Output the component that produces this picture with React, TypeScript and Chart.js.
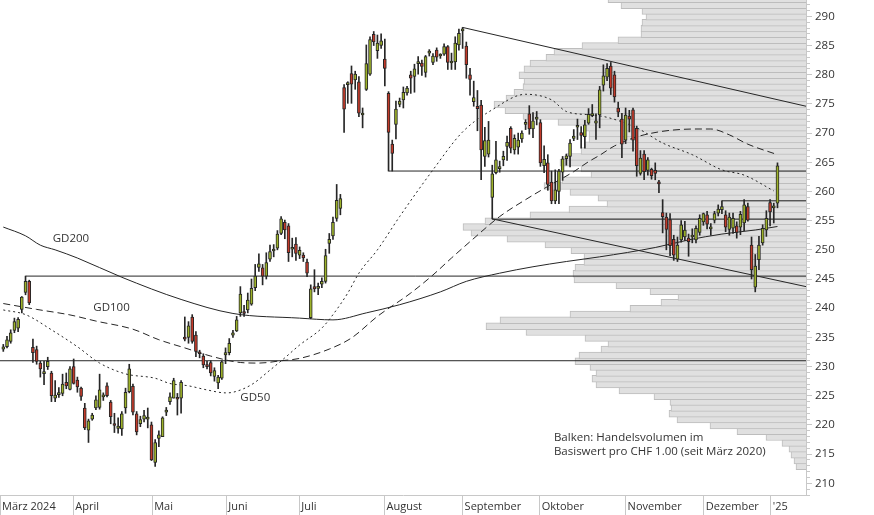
import React, { useEffect, useRef } from 'react';
import { Chart, registerables } from 'chart.js';

Chart.register(...registerables);

// ---- Daily candles (index 0 = first trading day shown, March 2024) ----
const OPEN = [
  233.0, 233.4, 234.3, 236.2, 236.6, 239.8, 242.7, 244.6, 233.3, 232.9,
  230.6, 228.8, 230.0, 228.9, 224.6, 225.2, 225.4, 227.3, 226.1, 230.0,
  227.7, 226.3, 222.9, 219.1, 221.0, 222.9, 223.0, 224.8, 226.7, 223.9,
  220.0, 219.4, 219.3, 222.9, 225.7, 226.6, 221.9, 220.2, 221.0, 221.0,
  220.0, 213.6, 217.7, 218.0, 222.2, 224.0, 224.6, 224.6, 224.6, 234.8,
  235.0, 238.5, 235.4, 232.4, 231.8, 230.2, 230.7, 228.3, 227.2, 228.0,
  232.0, 232.4, 235.4, 236.1, 239.2, 239.3, 239.7, 240.7, 243.5, 247.0,
  246.9, 245.5, 248.4, 249.8, 250.3, 252.8, 254.7, 254.1, 250.1, 251.0,
  249.1, 249.1, 247.9, 238.4, 243.7, 243.4, 244.1, 244.6, 251.1, 252.4,
  255.4, 257.1, 277.8, 278.3, 280.2, 279.1, 278.8, 273.1, 277.5, 280.1,
  286.9, 284.1, 285.0, 282.7, 276.8, 268.1, 271.5, 274.9, 275.7, 276.9,
  280.0, 279.7, 281.9, 282.0, 280.4, 283.7, 282.1, 284.2, 283.2, 283.5,
  284.8, 282.0, 282.2, 285.1, 287.5, 284.9, 280.0, 275.4, 274.6, 274.8,
  266.0, 266.4, 259.0, 263.2, 263.9, 265.4, 267.7, 270.8, 267.1, 267.6,
  269.0, 271.5, 273.3, 270.7, 272.4, 271.8, 264.4, 264.9, 261.6, 258.4,
  260.0, 263.3, 265.6, 266.0, 269.1, 271.0, 270.1, 269.4, 271.7, 273.0,
  271.7, 273.1, 278.2, 279.6, 281.5, 280.0, 274.3, 272.4, 268.8, 272.9,
  274.0, 270.8, 263.1, 266.4, 263.6, 263.8, 263.6, 261.5, 256.4, 255.6,
  255.2, 251.8, 248.4, 251.7, 252.2, 252.0, 252.2, 251.7, 253.0, 254.8,
  256.0, 253.6, 255.1, 256.3, 256.9, 256.0, 253.5, 253.7, 254.1, 253.9,
  254.6, 257.4, 250.8, 243.6, 248.3, 251.2, 253.4, 258.1, 257.2, 258.0,
];
const HIGH = [
  233.8, 235.2, 236.3, 238.3, 238.4, 242.0, 245.5, 244.8, 234.7, 233.5,
  230.9, 230.9, 231.6, 229.2, 227.6, 226.4, 228.7, 228.9, 230.0, 231.3,
  228.2, 226.5, 223.7, 221.0, 222.0, 225.0, 228.7, 225.5, 227.2, 224.2,
  222.0, 221.2, 222.3, 226.3, 230.4, 227.0, 222.3, 221.5, 222.5, 222.9,
  220.5, 217.5, 219.0, 221.4, 223.0, 225.5, 228.0, 225.4, 227.6, 238.5,
  237.7, 238.9, 236.0, 232.8, 232.2, 230.9, 231.0, 229.8, 228.5, 231.0,
  233.2, 234.8, 236.2, 238.6, 243.7, 240.5, 242.6, 245.0, 247.5, 249.3,
  247.5, 249.5, 250.8, 250.9, 253.3, 255.7, 255.1, 254.5, 252.0, 252.1,
  250.5, 249.5, 248.4, 244.0, 246.6, 244.3, 245.2, 250.1, 252.8, 255.6,
  261.2, 259.5, 278.3, 278.8, 281.5, 280.6, 279.7, 274.3, 285.1, 286.5,
  287.4, 286.8, 287.0, 286.1, 277.1, 268.8, 275.5, 276.0, 277.9, 278.0,
  280.6, 281.8, 283.1, 282.5, 283.3, 284.3, 283.6, 284.6, 283.6, 285.3,
  285.0, 283.7, 286.5, 287.8, 288.1, 285.6, 281.1, 278.9, 277.3, 275.6,
  271.0, 272.0, 264.5, 268.6, 265.2, 266.9, 269.5, 271.1, 269.7, 270.0,
  270.4, 272.3, 274.7, 273.5, 273.7, 272.3, 267.8, 266.3, 263.5, 263.7,
  263.8, 266.0, 266.4, 268.9, 270.6, 272.4, 271.1, 272.2, 274.2, 274.9,
  273.3, 278.0, 281.7, 281.9, 282.1, 280.6, 275.3, 273.4, 274.3, 273.9,
  274.3, 271.2, 267.0, 267.0, 265.8, 264.0, 264.9, 261.9, 258.6, 256.3,
  256.2, 252.5, 252.2, 255.0, 254.9, 252.7, 253.6, 254.1, 256.0, 256.3,
  256.6, 254.5, 256.6, 257.7, 258.4, 256.7, 256.3, 256.3, 254.8, 256.6,
  258.6, 258.0, 252.2, 249.2, 252.3, 254.3, 256.7, 258.6, 258.0, 264.9,
];
const LOW = [
  232.6, 233.2, 234.0, 235.8, 236.0, 239.2, 242.3, 240.6, 230.7, 230.4,
  228.2, 226.9, 229.5, 224.0, 224.0, 224.7, 225.0, 226.2, 226.0, 227.0,
  225.6, 224.2, 219.2, 217.0, 220.8, 222.6, 222.7, 224.2, 224.8, 220.2,
  218.7, 218.6, 218.2, 222.0, 225.5, 221.7, 218.3, 219.7, 220.5, 219.5,
  213.9, 212.9, 216.3, 218.0, 221.6, 223.5, 224.6, 221.7, 222.0, 234.4,
  234.0, 234.0, 231.7, 231.5, 229.8, 229.6, 228.4, 227.5, 226.2, 227.8,
  230.5, 232.0, 235.0, 236.0, 238.6, 238.6, 239.2, 240.5, 243.0, 246.3,
  244.0, 245.0, 248.0, 248.8, 250.0, 252.6, 251.9, 248.0, 248.8, 248.2,
  248.5, 248.0, 245.4, 238.2, 242.8, 242.3, 243.5, 244.3, 249.4, 251.8,
  254.9, 256.0, 270.1, 275.1, 275.1, 277.5, 272.8, 270.9, 277.3, 279.9,
  285.0, 282.8, 284.5, 278.1, 263.5, 263.5, 269.0, 274.5, 274.3, 276.5,
  276.8, 277.0, 280.1, 279.9, 279.6, 283.2, 281.7, 282.3, 282.8, 283.3,
  280.9, 280.9, 280.9, 284.2, 284.5, 279.4, 276.5, 274.6, 270.4, 262.0,
  264.3, 265.9, 255.3, 263.0, 263.3, 264.4, 265.3, 266.6, 266.4, 266.4,
  268.4, 270.6, 269.8, 269.2, 271.4, 264.3, 263.2, 260.2, 257.9, 257.9,
  257.9, 261.9, 264.5, 264.2, 268.7, 268.9, 267.4, 267.4, 271.5, 272.8,
  268.9, 270.9, 277.2, 279.0, 276.6, 275.3, 272.8, 265.8, 268.2, 270.2,
  266.9, 262.6, 262.8, 262.0, 262.8, 262.1, 262.0, 259.8, 252.9, 250.0,
  249.0, 248.2, 248.0, 251.3, 251.6, 248.9, 251.2, 251.2, 252.5, 254.2,
  253.6, 252.5, 254.6, 255.8, 256.2, 253.1, 252.5, 252.8, 252.0, 252.6,
  253.3, 254.9, 245.0, 242.8, 246.6, 250.8, 252.3, 254.1, 254.6, 257.2,
];
const CLOSE = [
  233.4, 234.6, 235.8, 237.7, 238.1, 241.9, 244.6, 240.9, 232.4, 230.9,
  229.6, 229.0, 230.9, 225.0, 225.1, 225.4, 227.0, 226.7, 229.6, 227.1,
  226.5, 224.9, 219.5, 220.7, 221.7, 224.3, 226.0, 224.9, 225.0, 221.4,
  219.9, 219.8, 221.9, 225.6, 229.6, 222.2, 218.8, 220.9, 221.6, 221.2,
  214.0, 217.0, 218.3, 221.2, 222.4, 224.8, 227.6, 224.4, 227.3, 234.7,
  237.0, 234.3, 232.6, 232.2, 230.3, 230.0, 228.9, 229.3, 228.2, 230.8,
  232.4, 234.0, 235.8, 238.0, 242.4, 239.1, 241.4, 243.4, 245.5, 247.6,
  245.5, 247.8, 249.7, 250.0, 252.7, 255.3, 253.4, 249.5, 250.3, 249.4,
  249.9, 248.6, 246.0, 243.3, 243.3, 243.6, 244.6, 249.0, 251.8, 254.7,
  258.5, 258.8, 274.1, 278.5, 278.4, 280.1, 273.4, 273.3, 281.9, 286.0,
  285.6, 285.4, 285.8, 281.1, 270.1, 266.5, 274.1, 275.5, 277.0, 277.7,
  279.4, 281.0, 282.1, 281.4, 283.1, 283.9, 283.2, 283.0, 283.3, 284.8,
  282.1, 282.2, 285.4, 287.1, 287.7, 281.7, 279.2, 276.1, 274.2, 267.1,
  268.7, 268.8, 263.0, 265.4, 264.1, 266.0, 268.4, 267.4, 269.1, 268.8,
  270.0, 271.7, 270.7, 272.1, 272.6, 264.9, 265.5, 261.2, 258.4, 260.3,
  263.5, 265.6, 266.1, 268.3, 269.5, 271.2, 269.6, 271.4, 273.2, 273.2,
  272.1, 277.4, 279.8, 281.1, 277.7, 276.2, 273.6, 268.1, 273.1, 272.4,
  268.8, 264.4, 265.7, 263.4, 265.4, 262.7, 263.1, 261.3, 255.7, 253.5,
  250.7, 249.1, 250.8, 254.3, 253.4, 251.4, 252.4, 253.7, 255.4, 256.2,
  254.4, 253.8, 256.2, 257.0, 257.4, 253.9, 255.6, 255.4, 253.0, 256.1,
  257.7, 255.1, 246.6, 247.2, 250.8, 253.7, 255.4, 256.5, 257.4, 264.4,
];

// ---- Moving averages, sampled [day index, value] ----
const GD200 = [
  [0, 253.9], [6, 252.4], [10, 250.8], [14, 250.0], [20, 248.6], [32, 245.3], [48, 241.5],
  [62, 239.1], [80, 238.3], [89, 238.0], [98, 239.2], [107, 240.6], [118, 242.8], [125, 244.6],
  [134, 246.0], [143, 247.1], [152, 248.0], [161, 248.8], [176, 250.4], [185, 251.7],
  [194, 252.7], [203, 253.4], [209, 254.0],
];
const GD100 = [
  [0, 240.8], [9, 239.8], [18, 238.85], [25, 237.8], [35, 236.4], [42, 234.6], [49, 233.2],
  [56, 231.8], [64, 230.7], [69, 230.6], [75, 231.0], [80, 231.4], [88, 233.0], [94, 234.9],
  [101, 238.6], [110, 242.6], [116, 245.7], [121, 248.6], [126, 251.4], [134, 255.7],
  [141, 258.6], [146, 260.5], [154, 263.4], [158, 265.1], [161, 266.2], [165, 267.8],
  [173, 269.7], [187, 270.7], [191, 270.7], [196, 269.7], [201, 268.1], [209, 266.3],
];
const GD50 = [
  [0, 239.7], [6, 238.9], [13, 236.3], [20, 233.4], [26, 230.6], [33, 228.75], [41, 228.0],
  [45, 227.1], [50, 226.7], [55, 226.0], [60, 225.5], [62, 225.6], [67, 226.9], [72, 229.4],
  [76, 231.5], [80, 233.7], [86, 236.6], [89, 238.9], [93, 242.6], [96, 246.0], [101, 250.0],
  [107, 255.7], [116, 263.7], [124, 270.2], [132, 274.0], [141, 276.65], [148, 275.7],
  [152, 273.7], [159, 273.1], [163, 272.7], [171, 270.9], [178, 268.3], [186, 266.3],
  [194, 263.7], [200, 262.8], [208, 260.1],
];

// ---- Volume profile (Handelsvolumen per CHF 1.00), from lowest price bin upward ----
const VOL_FIRST_BIN = 211.83;
const VOLUME = [
  10, 12, 15, 17, 24, 40, 69, 96, 129, 137,
  135, 136, 152, 187, 210, 214, 210, 216, 231, 227,
  205, 198, 221, 280, 320, 306, 236, 176, 145, 128,
  156, 190, 232, 233, 231, 222, 222, 235, 261, 299,
  335, 343, 321, 276, 237, 199, 208, 236, 262, 244,
  215, 225, 246, 240, 225, 221, 217, 217, 222, 248,
  283, 301, 312, 300, 292, 283, 282, 287, 282, 276,
  260, 252, 224, 188, 165, 165, 164, 160, 164, 185,
  198,
];

// ---- Support / resistance lines: [start day index, level] ----
const HLINES = [
  [6, 245.5],
  [-0.89, 231.0],
  [104, 263.5],
  [132, 255.25],
  [194, 258.4],
];
const TREND_UPPER = [[124, 288.1], [216.7, 274.6]];
const TREND_LOWER = [[132, 255.3], [216.7, 243.7]];

// ---- Axis ----
const MONTH_POS = [-0.89, 18.9, 40.2, 60.2, 79.9, 102.9, 124.0, 144.8, 168.0, 189.1, 207.2];
const MONTH_LABELS = ['März 2024', 'April', 'Mai', 'Juni', 'Juli', 'August', 'September', 'Oktober', 'November', 'Dezember', "'25"];

const NOTES = [
  { text: 'GD200', i: 13.35, v: 251.95 },
  { text: 'GD100', i: 24.3, v: 240.0 },
  { text: 'GD50', i: 64.0, v: 224.6 },
  { text: 'Balken: Handelsvolumen im', i: 148.65, v: 217.84 },
  { text: 'Basiswert pro CHF 1.00 (seit März 2020)', i: 148.65, v: 215.45 },
];

const X_MIN = -0.89;
const X_MAX = 216.7;
const Y_MIN = 208;
const Y_MAX = 292.8;

const GREEN = '#9db22a';
const RED = '#c23a2a';
const INK = '#262626';
const AXIS = '#c8c8c8';
const TEXT = '#333333';
const FONT = '"Open Sans", "DejaVu Sans", sans-serif';

const notesPlugin = {
  id: 'notes',
  afterDatasetsDraw(chart: any) {
    const { ctx, scales } = chart;
    const x = scales.x;
    const y = scales.y;
    ctx.save();
    ctx.font = `11.5px ${FONT}`;
    ctx.fillStyle = TEXT;
    ctx.textAlign = 'left';
    ctx.textBaseline = 'middle';
    for (const n of NOTES) {
      ctx.fillText(n.text, x.getPixelForValue(n.i), y.getPixelForValue(n.v));
    }
    ctx.restore();
  },
};

function zeroPad(s: any) {
  s.paddingTop = 0;
  s.paddingBottom = 0;
  s.paddingLeft = 0;
  s.paddingRight = 0;
}

export default function App() {
  const ref = useRef<HTMLCanvasElement | null>(null);

  useEffect(() => {
    if (!ref.current) return;
    const toXY = (arr: number[][]) => arr.map(([i, v]) => ({ x: i, y: v }));
    const lineDs = (data: any[], dash: number[], order: number) => ({
      type: 'line',
      data,
      xAxisID: 'x',
      yAxisID: 'y',
      borderColor: INK,
      borderWidth: 1,
      borderDash: dash,
      pointRadius: 0,
      fill: false,
      cubicInterpolationMode: 'monotone',
      order,
    });

    const datasets: any[] = [
      {
        type: 'bar',
        label: 'Volumen',
        indexAxis: 'y',
        xAxisID: 'xv',
        yAxisID: 'y',
        data: VOLUME.map((v, k) => ({ x: v, y: VOL_FIRST_BIN + k + 0.5 })),
        backgroundColor: '#e0e0e0',
        borderColor: '#bdbdbd',
        borderWidth: 1,
        barThickness: 6.84,
        order: 10,
      },
      ...HLINES.map(([s, lv]) => lineDs([{ x: s, y: lv }, { x: X_MAX, y: lv }], [], 5)),
      lineDs(toXY(TREND_UPPER), [], 5),
      lineDs(toXY(TREND_LOWER), [], 5),
      lineDs(toXY(GD200), [], 4),
      lineDs(toXY(GD100), [7, 4], 4),
      lineDs(toXY(GD50), [2, 3], 4),
      {
        type: 'bar',
        label: 'Docht',
        xAxisID: 'x',
        yAxisID: 'yc',
        data: HIGH.map((h, i) => ({ x: i, y: [LOW[i], h] })),
        backgroundColor: INK,
        borderWidth: 0,
        grouped: false,
        barThickness: 1,
        maxBarThickness: 1,
        order: 2,
      },
      {
        type: 'bar',
        label: 'Kurs',
        xAxisID: 'x',
        yAxisID: 'yc',
        data: OPEN.map((o, i) => ({ x: i, y: [o, CLOSE[i]] })),
        backgroundColor: (c: any) => (CLOSE[c.dataIndex] >= OPEN[c.dataIndex] ? GREEN : RED),
        borderColor: INK,
        borderWidth: 1,
        borderSkipped: false,
        grouped: false,
        barThickness: 3,
        maxBarThickness: 3,
        minBarLength: 2,
        order: 1,
      },
    ];

    const chart = new Chart(ref.current, {
      type: 'line',
      data: { datasets },
      plugins: [notesPlugin],
      options: {
        animation: false,
        responsive: false,
        devicePixelRatio: 1,
        events: [],
        layout: { padding: 0 },
        plugins: { legend: { display: false }, tooltip: { enabled: false } },
        scales: {
          x: {
            type: 'linear',
            min: X_MIN,
            max: X_MAX,
            offset: false,
            afterBuildTicks: (s: any) => {
              s.ticks = MONTH_POS.map((v) => ({ value: v }));
            },
            afterFit: (s: any) => {
              s.height = 20;
              zeroPad(s);
            },
            ticks: {
              autoSkip: false,
              maxRotation: 0,
              minRotation: 0,
              align: 'start',
              padding: -15,
              labelOffset: 2,
              color: TEXT,
              font: { family: FONT, size: 11 },
              callback: (_v: any, idx: number) => MONTH_LABELS[idx],
            },
            grid: { drawOnChartArea: false, drawTicks: true, tickLength: 20, color: AXIS, tickColor: AXIS, offset: false },
            border: { display: true, color: AXIS },
          },
          xv: {
            type: 'linear',
            display: false,
            reverse: true,
            min: 0,
            max: 806,
            offset: false,
            grid: { offset: false },
          },
          yc: {
            type: 'linear',
            display: false,
            min: Y_MIN,
            max: Y_MAX,
            offset: false,
            grid: { offset: false },
          },
          yMinor: {
            type: 'linear',
            position: 'right',
            weight: 0,
            min: Y_MIN,
            max: Y_MAX,
            offset: false,
            ticks: { stepSize: 1, includeBounds: false, display: false },
            grid: { drawOnChartArea: false, drawTicks: true, tickLength: 4, color: AXIS, tickColor: AXIS, offset: false },
            border: { display: false },
            afterFit: (s: any) => {
              s.width = 0;
              zeroPad(s);
            },
          },
          y: {
            type: 'linear',
            position: 'right',
            weight: 1,
            min: Y_MIN,
            max: Y_MAX,
            offset: false,
            ticks: { stepSize: 5, includeBounds: false, padding: 3, color: TEXT, font: { family: FONT, size: 11.5 } },
            grid: { drawOnChartArea: false, drawTicks: true, tickLength: 6, color: AXIS, tickColor: AXIS, offset: false },
            border: { display: true, color: AXIS },
            afterFit: (s: any) => {
              s.width = 68;
              zeroPad(s);
            },
          },
        },
      } as any,
    } as any);

    return () => chart.destroy();
  }, []);

  return (
    <div style={{ position: 'absolute', left: 0, top: 0, width: 874, height: 515, background: '#fff' }}>
      <canvas ref={ref} width={874} height={515} style={{ display: 'block' }} />
    </div>
  );
}
